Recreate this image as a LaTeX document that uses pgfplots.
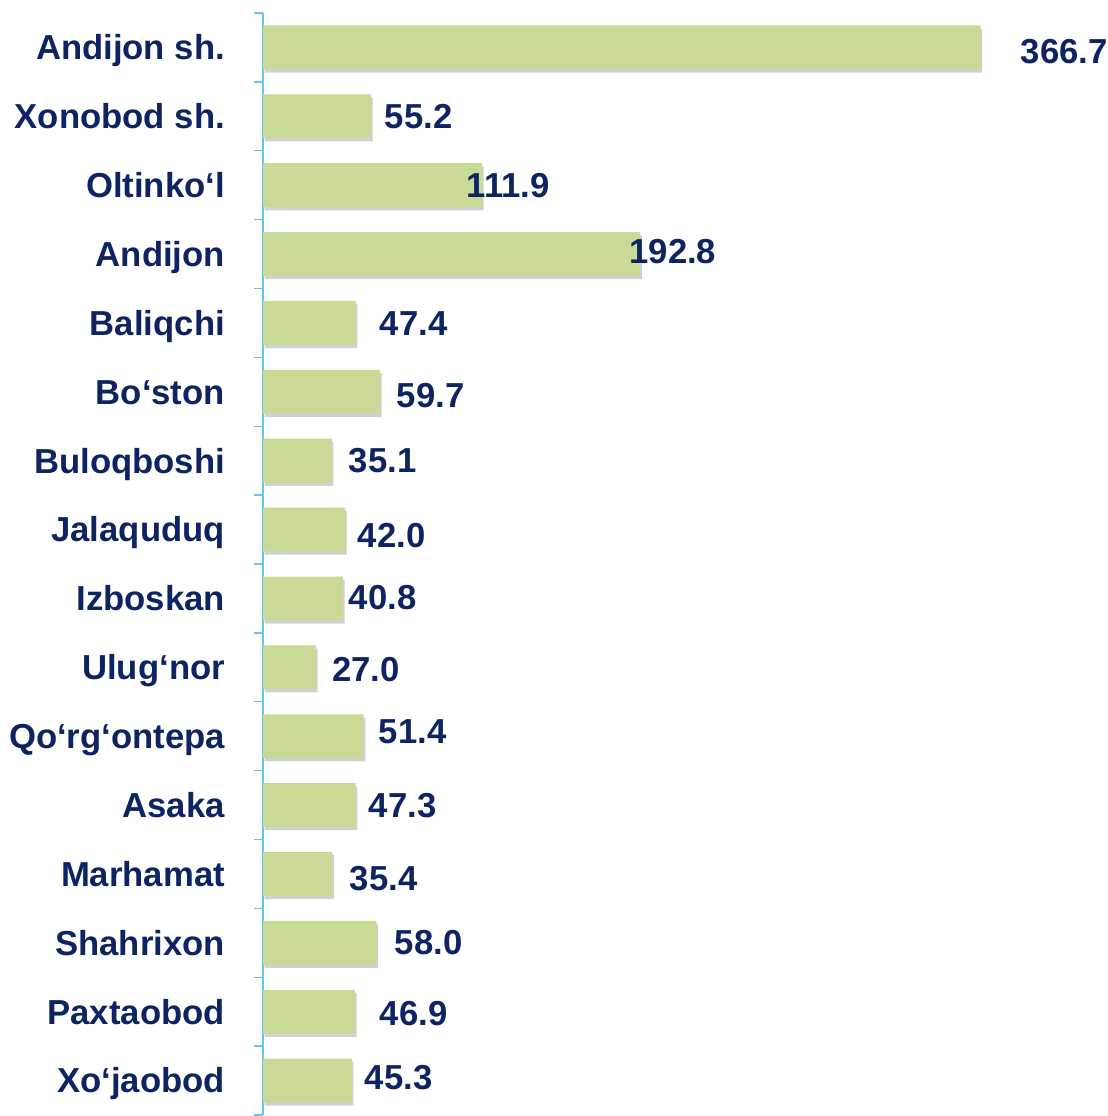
\documentclass[border=0pt]{standalone}
\usepackage{pgfplots}
\pgfplotsset{compat=1.18}
\usepackage{pgfplotstable}
\usepackage{fontspec}
\setmainfont{Liberation Sans}
\usetikzlibrary{calc,shadows}
\definecolor{bargreen}{HTML}{C9DA96}
\definecolor{navy}{HTML}{0E2462}
\definecolor{axblue}{HTML}{62C6EE}
\pgfplotstableread{
y x
0 366.7
1 55.2
2 111.9
3 192.8
4 47.4
5 59.7
6 35.1
7 42.0
8 40.8
9 27.0
10 51.4
11 47.3
12 35.4
13 58.0
14 46.9
15 45.3
}\bars
\pgfplotstableread{
lx ly lab
409.5 0.06 366.7
79.5 1.00 55.2
125.3 2.01 111.9
209.4 2.96 192.8
76.9 4.01 47.4
85.6 5.06 59.7
61.1 6.00 35.1
65.7 7.09 42.0
61.1 7.99 40.8
52.5 9.03 27.0
76.4 9.93 51.4
71.3 11.01 47.3
61.6 12.07 35.4
84.6 12.99 58.0
76.9 14.03 46.9
69.3 14.96 45.3
}\labs
\begin{document}
\begin{tikzpicture}
\begin{axis}[
  name=ax,
  scale only axis,
  width=422pt, height=552.8pt,
  xmin=0, xmax=430,
  ymin=-0.5, ymax=15.5,
  y dir=reverse,
  clip=false,
  axis y line*=left,
  axis x line=none,
  axis line style={axblue, line width=1pt},
  ytick={0,...,15},
  yticklabels={Andijon sh.,Xonobod sh.,Oltinko‘l,Andijon,Baliqchi,Bo‘ston,Buloqboshi,Jalaquduq,Izboskan,Ulug‘nor,Qo‘rg‘ontepa,Asaka,Marhamat,Shahrixon,Paxtaobod,Xo‘jaobod},
  minor ytick={-0.5,0.5,...,15.5},
  major tick length=0pt,
  minor tick length=4.5pt,
  tick align=outside,
  minor tick style={axblue, line width=0.7pt},
  yticklabel style={font=\fontsize{17.4}{20}\selectfont\bfseries, text=navy, inner sep=0pt, anchor=base east, xshift=-19pt, yshift=-6.2pt},
]
\addplot[xbar, bar width=22pt, fill=bargreen, draw=none,
  drop shadow={shadow xshift=0.8pt, shadow yshift=-1.6pt, opacity=0.3, fill=black!60}]
  table[x=x, y=y] {\bars};
\addplot[draw=none, mark=none, nodes near coords, point meta=explicit symbolic,
  nodes near coords align=center,
  every node near coord/.append style={font=\fontsize{17.4}{20}\selectfont\bfseries, text=navy, anchor=center, inner sep=0pt}]
  table[x=lx, y=ly, meta=lab] {\labs};
\end{axis}
\path[use as bounding box] ($(ax.north west)+(-132pt,6.5pt)$) rectangle +(554pt,-558pt);
\end{tikzpicture}
\end{document}
